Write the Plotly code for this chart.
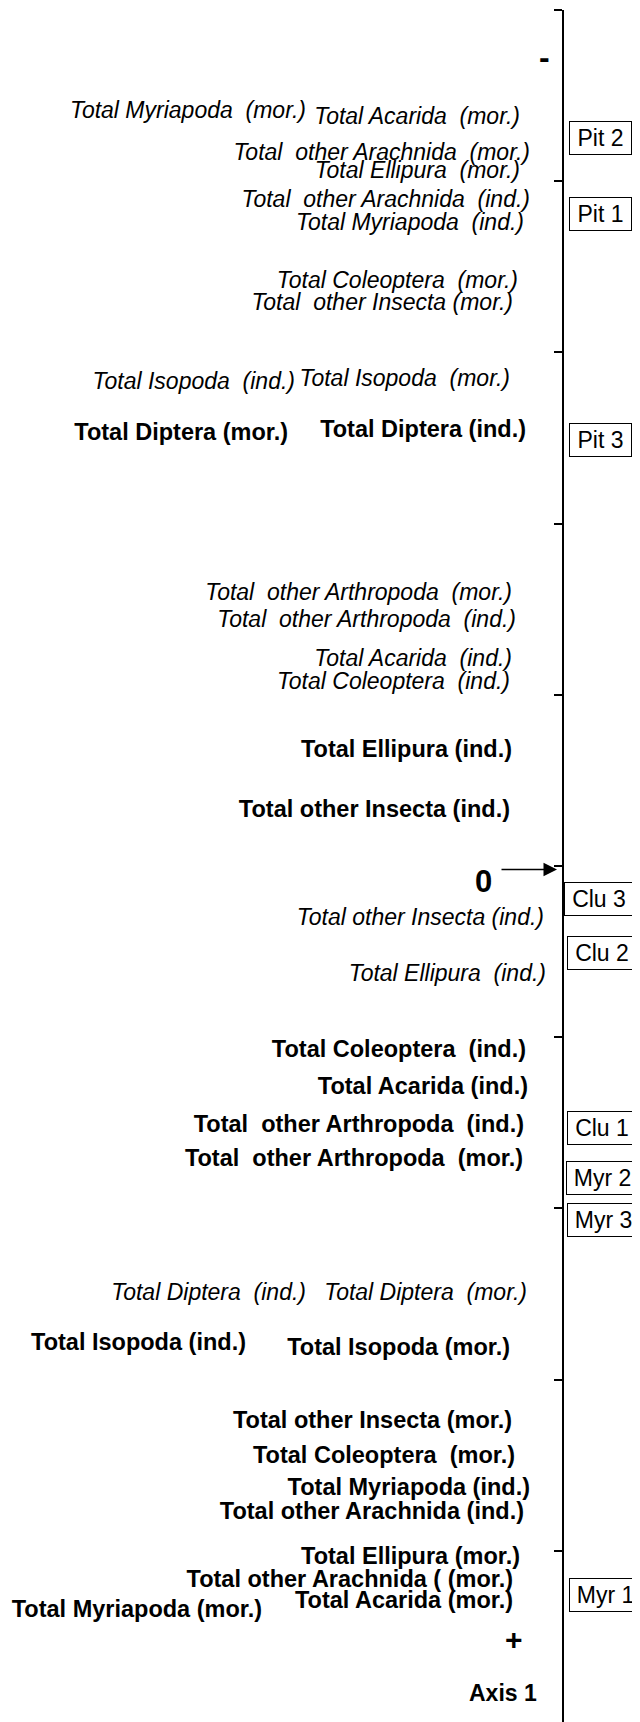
import plotly.graph_objects as go

# ---------------- data (axis-1 scores) ----------------
italic_labels = [
    "Total Myriapoda  (mor.)", "Total Acarida  (mor.)",
    "Total  other Arachnida  (mor.)", "Total Ellipura  (mor.)",
    "Total  other Arachnida  (ind.)", "Total Myriapoda  (ind.)",
    "Total Coleoptera  (mor.)", "Total  other Insecta (mor.)",
    "Total Isopoda  (ind.)", "Total Isopoda  (mor.)",
    "Total  other Arthropoda  (mor.)", "Total  other Arthropoda  (ind.)",
    "Total Acarida  (ind.)", "Total Coleoptera  (ind.)",
    "Total other Insecta (ind.)", "Total Ellipura  (ind.)",
    "Total Diptera  (ind.)", "Total Diptera  (mor.)",
]
italic_scores = [
    -4.40, -4.37, -4.16, -4.05, -3.88, -3.75, -3.41, -3.28, -2.82, -2.84,
    -1.59, -1.43, -1.20, -1.07, 0.31, 0.64, 2.50, 2.50,
]

bold_labels = [
    "Total Diptera (mor.)", "Total Diptera (ind.)",
    "Total Ellipura (ind.)", "Total other Insecta (ind.)",
    "Total Coleoptera  (ind.)", "Total Acarida (ind.)",
    "Total  other Arthropoda  (ind.)", "Total  other Arthropoda  (mor.)",
    "Total Isopoda (ind.)", "Total Isopoda (mor.)",
    "Total other Insecta (mor.)", "Total Coleoptera  (mor.)",
    "Total Myriapoda (ind.)", "Total other Arachnida (ind.)",
    "Total Ellipura (mor.)", "Total other Arachnida ( (mor.)",
    "Total Myriapoda (mor.)", "Total Acarida (mor.)",
]
bold_scores = [
    -2.52, -2.54, -0.67, -0.32, 1.08, 1.30, 1.52, 1.72, 2.79, 2.82,
    3.25, 3.45, 3.64, 3.78, 4.04, 4.18, 4.35, 4.30,
]

sites = ["Pit 2", "Pit 1", "Pit 3", "Clu 3", "Clu 2", "Clu 1", "Myr 2", "Myr 3", "Myr 1"]
site_scores = [-4.25, -3.81, -2.49, 0.19, 0.51, 1.53, 1.82, 2.07, 4.26]

axis_ticks = [-5, -4, -3, -2, -1, 0, 1, 2, 3, 4]

# ---------------- layout helpers (label columns, right-aligned) ----------------
italic_x = [306, 520, 530, 520, 530, 524, 518, 513, 295, 510,
            512, 516, 512, 510, 544, 546, 306, 527]
bold_x = [288, 526, 512, 510, 526, 528, 524, 523, 246, 510,
          512, 515, 530, 524, 520, 513, 262, 513]
site_x = [600, 600, 600, 598.5, 602, 602, 602, 603.5, 605.5]
site_w = [55, 55, 55, 62, 62, 62, 65, 65, 65]

FONT = "Liberation Sans, Arial, sans-serif"
FS = 23
FS_BOLD = 23.5
PAGE_PAD = 8  # default body margin of the html page

fig = go.Figure()

fig.add_trace(go.Scatter(
    x=italic_x, y=italic_scores, text=italic_labels, mode="text",
    textposition="middle left",
    textfont=dict(family=FONT, size=FS, color="black", style="italic"),
    hoverinfo="skip", showlegend=False,
))
fig.add_trace(go.Scatter(
    x=bold_x, y=bold_scores, text=bold_labels, mode="text",
    textposition="middle left",
    textfont=dict(family=FONT, size=FS_BOLD, color="black", weight="bold"),
    hoverinfo="skip", showlegend=False,
))

annotations = []
for name, sc, sx, w in zip(sites, site_scores, site_x, site_w):
    annotations.append(dict(
        x=sx, y=sc, xref="x", yref="y", text=name, showarrow=False,
        xanchor="center", yanchor="middle",
        font=dict(family=FONT, size=FS, color="black"),
        bordercolor="black", borderwidth=1, borderpad=3,
        width=w, height=26, bgcolor="white",
    ))

# axis decorations
annotations += [
    dict(x=544, y=-4.725, xref="x", yref="y", text="-", showarrow=False,
         font=dict(family=FONT, size=32, color="black", weight="bold")),
    dict(x=513.5, y=4.52, xref="x", yref="y", text="+", showarrow=False,
         font=dict(family=FONT, size=30, color="black", weight="bold")),
    dict(x=483.5, y=0.09, xref="x", yref="y", text="0", showarrow=False,
         font=dict(family=FONT, size=31, color="black", weight="bold")),
    dict(x=503, y=4.83, xref="x", yref="y", text="Axis 1", showarrow=False,
         font=dict(family=FONT, size=FS, color="black", weight="bold")),
    dict(x=557, y=0.02, xref="x", yref="y", text="", showarrow=True,
         ax=500, ay=0.02, axref="x", ayref="y",
         arrowhead=2, arrowsize=1.8, arrowwidth=1.5, arrowcolor="black"),
]

W, H = 640, 1722
fig.update_layout(
    width=W - PAGE_PAD, height=H - PAGE_PAD,
    margin=dict(l=0, r=0, t=10 - PAGE_PAD, b=0),
    paper_bgcolor="white", plot_bgcolor="white",
    annotations=annotations,
    xaxis=dict(range=[PAGE_PAD, W], visible=False, fixedrange=True),
    yaxis=dict(
        range=[5, -5], anchor="free", position=(563 - PAGE_PAD) / (W - PAGE_PAD),
        side="left",
        showline=True, linecolor="black", linewidth=2,
        ticks="outside", ticklen=8, tickwidth=1.5, tickcolor="black",
        tickvals=axis_ticks, showticklabels=False,
        showgrid=False, zeroline=False, fixedrange=True,
    ),
)

fig.write_html("out.html")
